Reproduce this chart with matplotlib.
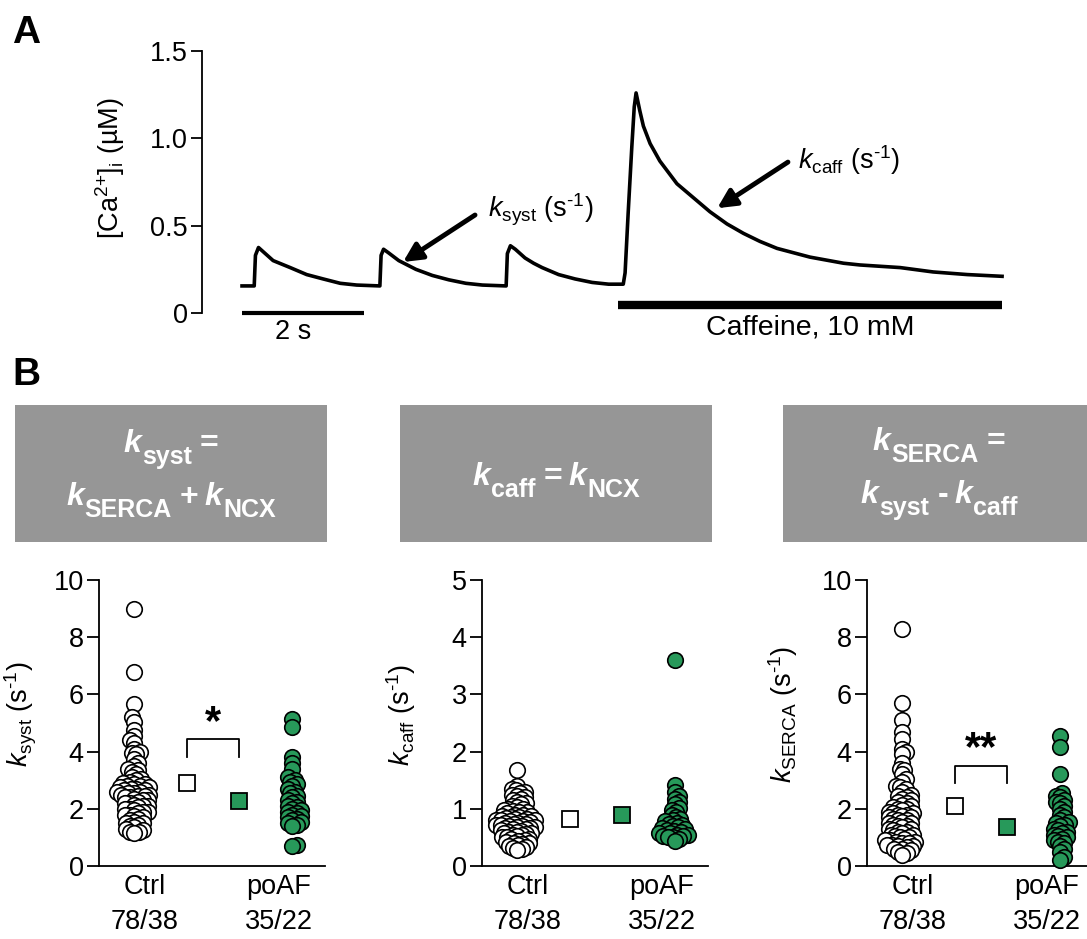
import numpy as np
import matplotlib
matplotlib.use("Agg")
import matplotlib.pyplot as plt
from matplotlib.patches import Rectangle

plt.rcParams['font.family'] = ['Liberation Sans', 'DejaVu Sans']
plt.rcParams['mathtext.fontset'] = 'custom'
plt.rcParams['mathtext.rm'] = 'Liberation Sans'
plt.rcParams['mathtext.it'] = 'Liberation Sans:italic'
plt.rcParams['mathtext.bf'] = 'Liberation Sans:bold'
plt.rcParams['axes.linewidth'] = 1.3

# ---- panel A: Ca2+ trace (time in s, [Ca2+]i in uM) ----
trace_t = [0.00, 0.20, 0.22, 0.27, 0.35, 0.51, 0.65, 0.79, 1.06, 1.33, 1.61, 1.88,
           2.26, 2.28, 2.32, 2.40, 2.57, 2.71, 2.85, 3.12, 3.39, 3.67, 3.94,
           4.33, 4.35, 4.40, 4.48, 4.64, 4.78, 4.92, 5.19, 5.46, 5.74, 6.01,
           6.25, 6.28, 6.33, 6.39, 6.43, 6.46, 6.52, 6.58, 6.69, 6.85, 7.13, 7.40,
           7.67, 7.95, 8.22, 8.49, 8.77, 9.31, 9.86, 10.13, 10.79, 11.33, 11.89, 12.46]
trace_ca = [0.155, 0.155, 0.33, 0.375, 0.35, 0.30, 0.28, 0.26, 0.22, 0.195, 0.17, 0.16,
            0.155, 0.33, 0.365, 0.345, 0.30, 0.275, 0.25, 0.215, 0.19, 0.17, 0.16,
            0.155, 0.34, 0.385, 0.365, 0.315, 0.285, 0.26, 0.22, 0.195, 0.175, 0.165,
            0.165, 0.23, 0.57, 0.95, 1.18, 1.26, 1.16, 1.07, 0.97, 0.87, 0.74, 0.66,
            0.58, 0.51, 0.456, 0.41, 0.37, 0.32, 0.285, 0.275, 0.26, 0.235, 0.22, 0.21]
scale_bar = [0.0, 2.0]
caffeine_bar = [6.16, 12.46]

# ---- panel B: rate constants (s^-1) ----
groups = ["Ctrl\n78/38", "poAF\n35/22"]

ksyst_ctrl = [9.0, 6.8, 5.65, 5.2, 5.05, 4.75, 4.55, 4.4, 4.3, 4.1, 4.0, 3.95, 3.9, 3.75,
              3.6, 3.5, 3.4, 3.35, 3.3, 3.2, 3.1, 3.05, 3.0, 2.95, 2.9, 2.85, 2.85, 2.8,
              2.8, 2.75, 2.75, 2.7, 2.7, 2.65, 2.65, 2.6, 2.6, 2.55, 2.55, 2.5, 2.5, 2.45,
              2.45, 2.4, 2.4, 2.35, 2.3, 2.3, 2.25, 2.2, 2.2, 2.15, 2.1, 2.1, 2.05, 2.0,
              2.0, 1.95, 1.9, 1.9, 1.85, 1.8, 1.8, 1.75, 1.7, 1.65, 1.6, 1.55, 1.5, 1.5,
              1.45, 1.4, 1.35, 1.3, 1.25, 1.2, 1.2, 1.15]
ksyst_poaf = [5.15, 4.85, 3.8, 3.6, 3.4, 3.1, 3.0, 2.95, 2.85, 2.8, 2.7, 2.6, 2.55, 2.45,
              2.4, 2.3, 2.25, 2.2, 2.1, 2.05, 2.0, 1.95, 1.9, 1.85, 1.8, 1.75, 1.7, 1.65,
              1.6, 1.55, 1.5, 1.45, 1.4, 0.75, 0.7]
kcaff_ctrl = [1.67, 1.4, 1.35, 1.32, 1.3, 1.28, 1.25, 1.22, 1.2, 1.18, 1.15, 1.12, 1.1,
              1.08, 1.05, 1.03, 1.0, 1.0, 0.98, 0.97, 0.95, 0.94, 0.92, 0.9, 0.9, 0.88,
              0.87, 0.86, 0.85, 0.84, 0.83, 0.82, 0.81, 0.8, 0.8, 0.79, 0.78, 0.77, 0.76,
              0.75, 0.74, 0.73, 0.72, 0.71, 0.7, 0.7, 0.69, 0.68, 0.67, 0.66, 0.65, 0.64,
              0.63, 0.62, 0.6, 0.6, 0.58, 0.57, 0.56, 0.55, 0.54, 0.52, 0.5, 0.5, 0.48,
              0.47, 0.45, 0.44, 0.42, 0.4, 0.4, 0.38, 0.36, 0.35, 0.33, 0.32, 0.3, 0.28]
kcaff_poaf = [3.6, 1.42, 1.3, 1.22, 1.18, 1.12, 1.08, 1.02, 0.98, 0.95, 0.9, 0.86, 0.82,
              0.8, 0.78, 0.76, 0.74, 0.72, 0.7, 0.68, 0.66, 0.65, 0.63, 0.62, 0.6, 0.58,
              0.57, 0.55, 0.54, 0.53, 0.52, 0.5, 0.5, 0.48, 0.43]
kserca_ctrl = [8.3, 5.7, 5.1, 4.7, 4.45, 4.1, 4.0, 3.9, 3.6, 3.4, 3.35, 3.2, 3.05, 2.95,
               2.8, 2.75, 2.7, 2.6, 2.5, 2.45, 2.4, 2.35, 2.3, 2.25, 2.2, 2.15, 2.1, 2.05,
               2.0, 2.0, 1.95, 1.9, 1.85, 1.85, 1.8, 1.8, 1.75, 1.7, 1.7, 1.65, 1.6, 1.6,
               1.55, 1.5, 1.5, 1.45, 1.4, 1.4, 1.35, 1.3, 1.3, 1.25, 1.2, 1.2, 1.15, 1.1,
               1.1, 1.05, 1.0, 1.0, 0.95, 0.9, 0.9, 0.85, 0.85, 0.8, 0.8, 0.75, 0.75, 0.7,
               0.7, 0.65, 0.6, 0.6, 0.55, 0.5, 0.45, 0.4]
kserca_poaf = [4.55, 4.15, 3.2, 2.55, 2.45, 2.4, 2.3, 2.25, 2.2, 2.1, 2.0, 1.9, 1.8, 1.7,
               1.6, 1.55, 1.5, 1.45, 1.4, 1.3, 1.25, 1.2, 1.15, 1.1, 1.05, 1.0, 0.95, 0.9,
               0.85, 0.8, 0.7, 0.6, 0.5, 0.3, 0.2]
means_ksyst = [2.9, 2.28]
means_kcaff = [0.82, 0.89]
means_kserca = [2.1, 1.37]

GREEN = '#27995A'
GREY = '#969696'
FS = 19.5
W, H = 1087, 939
fig = plt.figure(figsize=(W / 100, H / 100), dpi=100)


def px_axes(left, top, right, bottom):
    return fig.add_axes([left / W, 1 - bottom / H, (right - left) / W, (bottom - top) / H])


# ---------------- panel A ----------------
axA = px_axes(202, 51, 1010, 313)
axA.plot(trace_t, trace_ca, color='k', lw=2.6, solid_joinstyle='round')
axA.set_xlim(-0.656, 12.59)
axA.set_ylim(0, 1.5)
for s in ['top', 'right', 'bottom']:
    axA.spines[s].set_visible(False)
axA.set_xticks([])
axA.set_yticks([0, 0.5, 1.0, 1.5], ['0', '0.5', '1.0', '1.5'])
axA.tick_params(axis='y', length=8, width=1.3, labelsize=FS, pad=2)
axA.set_ylabel(r'[Ca$^{\text{2+}}$]$_{\mathrm{i}}$ (µM)', fontsize=FS, va='center')
axA.yaxis.set_label_coords(-0.114, 0.553)

axA.plot(scale_bar, [0, 0], color='k', lw=3, solid_capstyle='butt', clip_on=False)
axA.text(0.84, -0.035, '2 s', ha='center', va='top', fontsize=FS)
axA.plot(caffeine_bar, [0.046, 0.046], color='k', lw=6, solid_capstyle='butt', clip_on=False)
axA.text(9.31, -0.01, 'Caffeine, 10 mM', ha='center', va='top', fontsize=20.5)

arrow = dict(arrowstyle='-|>', lw=3.5, color='k', mutation_scale=28, shrinkA=0, shrinkB=0)
axA.annotate('', xy=(2.64, 0.292), xytext=(3.82, 0.561), arrowprops=arrow)
axA.annotate('', xy=(7.79, 0.60), xytext=(8.95, 0.864), arrowprops=arrow)
axA.text(4.03, 0.59, r'$k_{\mathrm{syst}}$ (s$^{\text{-1}}$)', ha='left', va='center', fontsize=FS)
axA.text(9.11, 0.876, r'$k_{\mathrm{caff}}$ (s$^{\text{-1}}$)', ha='left', va='center', fontsize=FS)

fig.text(12 / W, 1 - 43 / H, 'A', fontsize=28, weight='bold', va='baseline')
fig.text(12 / W, 1 - 385 / H, 'B', fontsize=28, weight='bold', va='baseline')

# ---------------- grey equation boxes ----------------
STY = {'k': dict(size=23, style='italic', gap=6, drop=0),
       'sub': dict(size=18, style='normal', gap=1, drop=12),
       'op': dict(size=23, style='normal', gap=8, drop=0)}


def rich_line(pieces, cx, base):
    r = fig.canvas.get_renderer()
    arts = []
    for s, kind in pieces:
        st = STY[kind]
        t = fig.text(0, 0, s, color='white', ha='left', va='baseline',
                     fontsize=st['size'], fontstyle=st['style'], weight='bold')
        arts.append((t, st))
    widths = [t.get_window_extent(r).width for t, _ in arts]
    total = sum(widths) + sum(st['gap'] for _, st in arts[1:])
    x = cx - total / 2
    for i, (t, st) in enumerate(arts):
        if i > 0:
            x += st['gap']
        t.set_position((x / W, 1 - (base + st['drop']) / H))
        x += widths[i]


for bx in [15, 400, 783]:
    fig.add_artist(Rectangle((bx / W, 1 - 542 / H), 312 / W, 137 / H,
                             transform=fig.transFigure, facecolor=GREY, edgecolor='none'))

rich_line([('k', 'k'), ('syst', 'sub'), ('=', 'op')], 171, 452)
rich_line([('k', 'k'), ('SERCA', 'sub'), ('+', 'op'), ('k', 'k'), ('NCX', 'sub')], 171, 505)
rich_line([('k', 'k'), ('caff', 'sub'), ('=', 'op'), ('k', 'k'), ('NCX', 'sub')], 556, 485)
rich_line([('k', 'k'), ('SERCA', 'sub'), ('=', 'op')], 939, 450)
rich_line([('k', 'k'), ('syst', 'sub'), ('-', 'op'), ('k', 'k'), ('caff', 'sub')], 939, 503)


# ---------------- panel B scatter plots ----------------
def swarm(vals, px_per_y, px_per_x, d=4.6, step=0.5):
    vals = np.asarray(vals, dtype=float)
    placed = []
    out = np.zeros(len(vals))
    for n, i in enumerate(np.argsort(vals)):
        y = vals[i] * px_per_y
        signs = [1, -1] if n % 2 else [-1, 1]
        found = None
        for k in range(0, 400):
            for sg in ([1] if k == 0 else signs):
                x = sg * k * step
                if all((x - a) ** 2 + (y - b) ** 2 >= d * d for a, b in placed):
                    found = x
                    break
            if found is not None:
                break
        placed.append((found, y))
        out[i] = found
    return out / px_per_x


def scatter_panel(left, ymax, yticks, ctrl, poaf, means, ylabel, label_x, bracket=None):
    ax = px_axes(left, 580, left + 226, 866)
    ax.set_xlim(0.3355, 4.626)
    ax.set_ylim(0, ymax)
    ax.spines['top'].set_visible(False)
    ax.spines['right'].set_visible(False)
    ax.spines['bottom'].set_clip_on(False)
    ppy = 286 / ymax
    ppx = 52.67
    for xc, vals, fc in [(1, ctrl, 'white'), (4, poaf, GREEN)]:
        off = swarm(vals, ppy, ppx)
        ax.scatter(xc + off, vals, s=125, facecolor=fc, edgecolor='k', linewidth=1.2,
                   zorder=3, clip_on=False)
    ax.plot(2, means[0], marker='s', ms=11, mfc='white', mec='k', mew=1.3, zorder=4)
    ax.plot(3, means[1], marker='s', ms=11, mfc=GREEN, mec='k', mew=1.3, zorder=4)
    if bracket is not None:
        top, foot, ypos, star = bracket
        ax.plot([2, 2, 3, 3], [foot, top, top, foot], color='k', lw=1.3)
        ax.text(2.5, ypos, star, ha='center', va='center', fontsize=30, weight='bold')
    ax.set_yticks(yticks, [str(v) for v in yticks])
    ax.set_xticks([1.2, 3.75], groups)
    ax.tick_params(axis='y', length=9, width=1.3, labelsize=FS, pad=2)
    ax.tick_params(axis='x', length=0, labelsize=FS, pad=6)
    for lab in ax.get_xticklabels():
        lab.set_linespacing(1.45)
    ax.set_ylabel(ylabel, fontsize=FS, va='center')
    ax.yaxis.set_label_coords(label_x, 0.53)
    return ax


scatter_panel(99, 10, [0, 2, 4, 6, 8, 10], ksyst_ctrl, ksyst_poaf, means_ksyst,
              r'$k_{\mathrm{syst}}$ (s$^{\text{-1}}$)', -0.345, bracket=(4.44, 3.8, 5.0, '*'))
scatter_panel(482, 5, [0, 1, 2, 3, 4, 5], kcaff_ctrl, kcaff_poaf, means_kcaff,
              r'$k_{\mathrm{caff}}$ (s$^{\text{-1}}$)', -0.36)
scatter_panel(867, 10, [0, 2, 4, 6, 8, 10], kserca_ctrl, kserca_poaf, means_kserca,
              r'$k_{\mathrm{SERCA}}$ (s$^{\text{-1}}$)', -0.37, bracket=(3.5, 2.9, 4.1, '**'))

fig.savefig('out.png', dpi=100)
